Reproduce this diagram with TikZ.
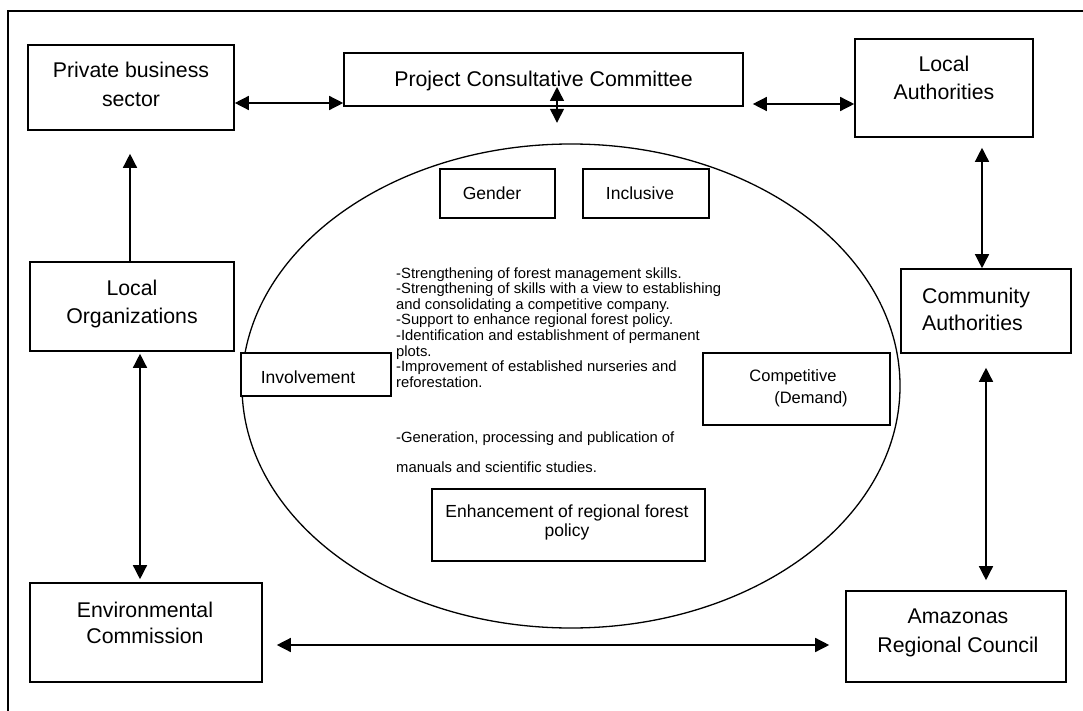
\documentclass[tikz,border=0pt]{standalone}
\usepackage{fontspec}
\setmainfont{Liberation Sans}
\usetikzlibrary{arrows.meta}
\tikzset{
  box/.style={draw, fill=white, line width=1.6pt, inner sep=0pt},
  lbl/.style={anchor=base, inner sep=0pt, font=\fontsize{21.3}{25}\selectfont},
  lblw/.style={anchor=base west, inner sep=0pt, font=\fontsize{21.3}{25}\selectfont},
  ilbl/.style={anchor=base, inner sep=0pt, font=\fontsize{17.5}{21}\selectfont},
  clbl/.style={anchor=base, inner sep=0pt, font=\fontsize{16.5}{20}\selectfont},
  body/.style={anchor=base west, inner sep=0pt, font=\fontsize{14.8}{16}\selectfont},
  tip/.tip={Triangle[length=14pt,width=14pt]},
  dbl/.style={line width=1.4pt, {tip}-{tip}},
  sgl/.style={line width=1.4pt, -{tip}},
}
\begin{document}
\begin{tikzpicture}[x=1pt,y=-1pt]
\useasboundingbox (0,0) rectangle (1083,711);
\fill[white] (0,0) rectangle (1083,711);
% outer frame (clipped at right and bottom)
\draw[line width=1.8pt] (8,711) -- (8,11) -- (1083,11);

% central ellipse
\draw[line width=1.3pt] (571,386) ellipse [x radius=329, y radius=242];

% outer boxes
\node[box, minimum width=206pt, minimum height=85pt] (priv) at (131,87.5) {};
\node[box, minimum width=399pt, minimum height=53pt] (proj) at (543.5,79.5) {};
\node[box, minimum width=178pt, minimum height=98pt] (locauth) at (944,88) {};
\node[box, minimum width=204pt, minimum height=89pt] (org) at (132,306.5) {};
\node[box, minimum width=170pt, minimum height=84pt] (comm) at (986,311) {};
\node[box, minimum width=232pt, minimum height=99pt] (env) at (146,632.5) {};
\node[box, minimum width=220pt, minimum height=91pt] (amaz) at (956,636.5) {};

% inner boxes
\node[box, minimum width=115pt, minimum height=49pt] (gender) at (497.5,193.5) {};
\node[box, minimum width=126pt, minimum height=49pt] (incl) at (646,193.5) {};
\node[box, minimum width=150pt, minimum height=43pt] (inv) at (316,374.5) {};
\node[box, minimum width=273pt, minimum height=72pt] (enh) at (568.5,525) {};

% body text
\node[body] (l1) at (396,278) {-Strengthening of forest management skills.};
\node[body] (l2) at (396,293.6) {-Strengthening of skills with a view to establishing};
\node[body] (l3) at (396,309.2) {and consolidating a competitive company.};
\node[body] (l4) at (396,324.8) {-Support to enhance regional forest policy.};
\node[body] (l5) at (396,340.4) {-Identification and establishment of permanent};
\node[body] (l6) at (396,356) {plots.};
\node[body] (l7) at (396,371.6) {-Improvement of established nurseries and};
\node[body] (l8) at (396,387.2) {reforestation.};
\node[body] (l9) at (396,442) {-Generation, processing and publication of};
\node[body] (l10) at (396,472) {manuals and scientific studies.};

% competitive box drawn over the text
\node[box, minimum width=187pt, minimum height=72pt] (comp) at (796.5,389) {};

% labels
\node[lbl] (privA) at (131,78) {Private business};
\node[lbl] (privB) at (131,107) {sector};
\node[lbl] (projT) at (543.5,87) {Project Consultative Committee};
\node[lbl] (laA) at (944,72) {Local};
\node[lbl] (laB) at (944,100) {Authorities};
\node[lbl] (orgA) at (132,295) {Local};
\node[lbl] (orgB) at (132,323) {Organizations};
\node[lblw] (commA) at (922,303) {Community};
\node[lblw] (commB) at (922,330) {Authorities};
\node[lbl] (envA) at (145,617) {Environmental};
\node[lbl] (envB) at (145,643) {Commission};
\node[lbl] (amA) at (958,623) {Amazonas};
\node[lbl] (amB) at (958,652) {Regional Council};

\node[ilbl] (genT) at (492,200) {Gender};
\node[ilbl] (incT) at (640,200) {Inclusive};
\node[ilbl] (invT) at (308,383) {Involvement};
\node[clbl] (compA) at (793,381.5) {Competitive};
\node[clbl] (compB) at (811,403) {(Demand)};
\node[ilbl] (enhA) at (567,517) {Enhancement of regional forest};
\node[ilbl] (enhB) at (567,536) {policy};

% connectors
\draw[dbl] ([yshift=-15.5pt]priv.east) -- ([yshift=-15.5pt]priv.east -| proj.west);
\draw[dbl] ([xshift=9pt,yshift=-24.5pt]proj.east) -- ([yshift=-16pt]locauth.west);
\draw[dbl] ([xshift=13.5pt,yshift=-7.5pt]proj.center) -- ([xshift=13.5pt,yshift=-16pt]proj.south);
\draw[sgl] ([xshift=-2pt]org.north) -- ([xshift=-1pt,yshift=-23pt]priv.south);
\draw[dbl] ([xshift=38pt,yshift=-10pt]locauth.south) -- ([xshift=-4pt]comm.north);
\draw[dbl] ([yshift=-14pt]comm.south) -- ([xshift=30pt,yshift=10pt]amaz.north);
\draw[dbl] ([xshift=8pt,yshift=-2pt]org.south) -- ([xshift=-6pt,yshift=3pt]env.north);
\draw[dbl] ([xshift=14pt,yshift=-12.5pt]env.east) -- ([xshift=-16pt,yshift=-8.5pt]amaz.west);
\end{tikzpicture}
\end{document}
